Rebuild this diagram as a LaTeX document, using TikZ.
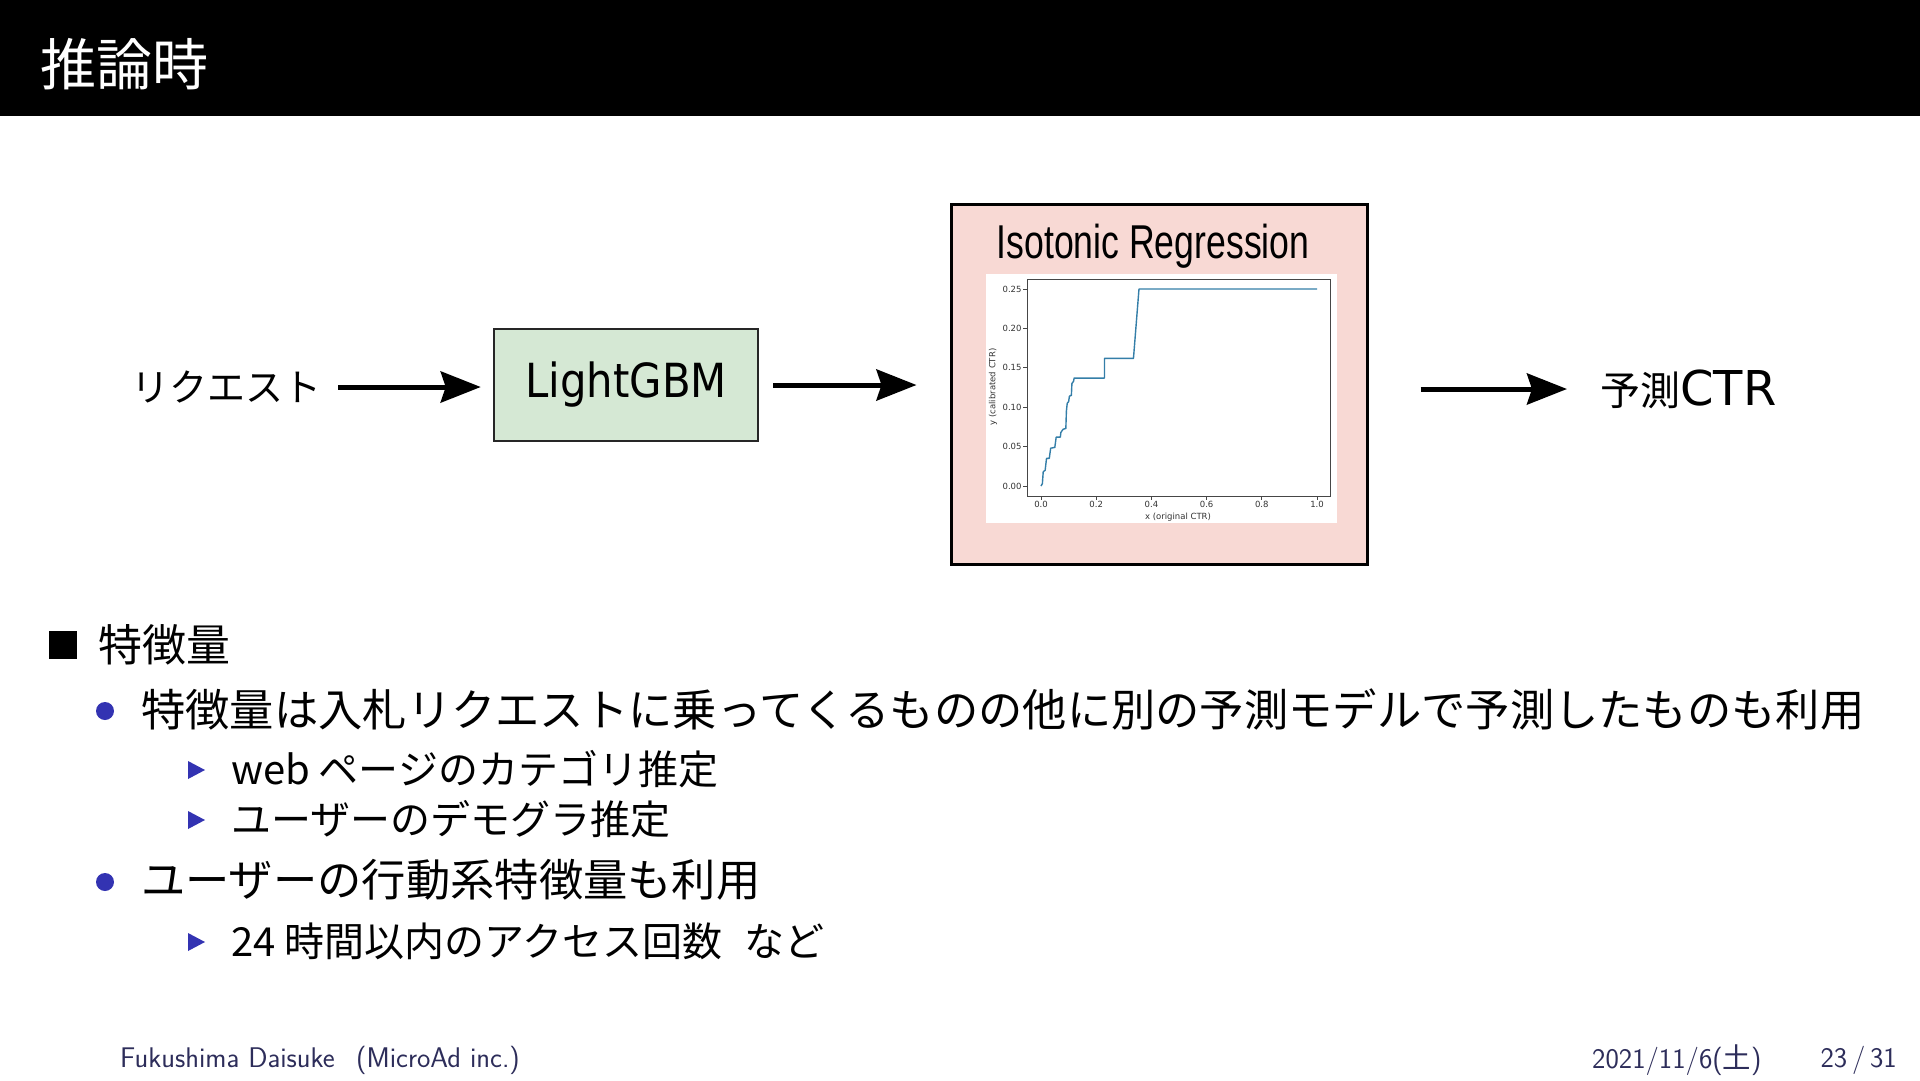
\documentclass[tikz,border=0pt]{standalone}
\usepackage{fontspec}
\usepackage{graphicx}
\newfontfamily\jp{Noto Sans CJK JP}
\newfontfamily\dv{DejaVu Sans}
\newfontfamily\lib{Liberation Sans}
\usetikzlibrary{arrows.meta}
\definecolor{structblue}{rgb}{0.2,0.2,0.7}
\definecolor{footcol}{RGB}{45,45,90}
\definecolor{lgbmfill}{RGB}{213,232,212}
\definecolor{isofill}{RGB}{248,217,212}
\definecolor{curvecol}{RGB}{52,126,168}
\definecolor{axiscol}{RGB}{70,70,70}
\tikzset{
  jphead/.style={anchor=west, inner sep=0pt, font=\jp\fontsize{44}{50}\selectfont},
  jpbody/.style={anchor=west, inner sep=0pt, font=\jp\fontsize{44.3}{50}\selectfont},
  jpsub/.style={anchor=west, inner sep=0pt, font=\jp\fontsize{40}{46}\selectfont},
  ball/.style={circle, fill=structblue, minimum size=18pt, inner sep=0pt},
  subtri/.pic={\fill[structblue] (-8.5,-9) -- (8.5,0) -- (-8.5,9) -- cycle;},
  flow/.style={line width=5pt, -{Stealth[length=40pt,width=31pt,inset=5pt]}},
  lgbmbox/.style={draw=black!85, line width=2.5pt, fill=lgbmfill, minimum width=264pt, minimum height=112pt, inner sep=0pt},
  isobox/.style={draw=black, line width=3pt, fill=isofill, minimum width=416pt, minimum height=360pt, inner sep=0pt},
  axisline/.style={draw=axiscol, line width=0.9pt},
  ticklbl/.style={inner sep=1pt, font=\dv\fontsize{8.5}{9}\selectfont, text=black!80},
  curve/.style={draw=curvecol, line width=1.4pt, line join=round},
  foot/.style={inner sep=0pt, text=footcol, font=\sffamily\fontsize{28.4}{32}\selectfont}
}
\begin{document}
\begin{tikzpicture}[x=1pt,y=-1pt]
\useasboundingbox (0,0) rectangle (1920,1080);
\fill[white] (0,0) rectangle (1920,1080);
% header
\fill[black] (0,0) rectangle (1920,116);
\node[anchor=west, inner sep=0pt, text=white, font=\jp\fontsize{56}{60}\selectfont] (title) at (40,64) {推論時};

% diagram
\node[anchor=west, inner sep=0pt, font=\jp\fontsize{38}{44}\selectfont] (req) at (131,387) {リクエスト};
\node[lgbmbox] (lgbm) at (626,385) {\raisebox{-6pt}{\scalebox{0.89}[1]{\dv\fontsize{47}{52}\selectfont LightGBM}}};
\node[isobox] (iso) at (1159,384.5) {};
\node[anchor=base, inner sep=0pt, font=\lib\fontsize{47.5}{50}\selectfont] (isotitle) at (1153,258) {\scalebox{0.75}[1]{Isotonic Regression}};
\node[anchor=west, inner sep=0pt] (pred) at (1600,389) {{\jp\fontsize{40}{44}\selectfont 予測}{\dv\fontsize{48}{52}\selectfont CTR}};

\draw[flow, shorten <=17pt, shorten >=12pt] (req.east) -- (req.east -| lgbm.west);
\draw[flow, shorten <=14pt, shorten >=33pt] (lgbm.east) -- (lgbm.east -| iso.west);
\draw[flow, shorten <=52pt, shorten >=33pt] (iso.east |- pred.west) -- (pred.west);

% plot
\fill[white] (986,274) rectangle (1337,523);
\draw[axisline] (1027,279) rectangle (1330,496);
\foreach \v/\l in {0/0.00, 0.05/0.05, 0.10/0.10, 0.15/0.15, 0.20/0.20, 0.25/0.25} {
  \draw[axisline] (1027,{486-\v*788}) -- ++(-4,0) node[anchor=east, ticklbl] {\l};
}
\foreach \v/\l in {0/0.0, 0.2/0.2, 0.4/0.4, 0.6/0.6, 0.8/0.8, 1.0/1.0} {
  \draw[axisline] ({1041+\v*276},496) -- ++(0,4) node[anchor=north, ticklbl] {\l};
}
\node[ticklbl] (xlabel) at (1178,517) {x (original CTR)};
\node[ticklbl, rotate=90] (ylabel) at (993,387) {y (calibrated CTR)};
\begin{scope}[shift={(1041,486)}, x=276pt, y=788pt]
\draw[curve] plot coordinates {(0,0) (0.005,0.003) (0.008,0.018) (0.015,0.02) (0.02,0.035) (0.03,0.035) (0.035,0.048) (0.05,0.049) (0.055,0.062) (0.07,0.062) (0.072,0.068) (0.08,0.072) (0.09,0.073) (0.092,0.095) (0.095,0.105) (0.1,0.107) (0.103,0.114) (0.11,0.115) (0.112,0.13) (0.118,0.133) (0.12,0.137) (0.23,0.137) (0.23,0.162) (0.335,0.162) (0.355,0.25) (1.0,0.25)};
\end{scope}

% body
\fill[black] (49,631) rectangle (77,659);
\node[jphead] (h1) at (98,645) {特徴量};
\node[ball] (b1) at (105,711) {};
\node[jpbody] (t1) at (141,709) {特徴量は入札リクエストに乗ってくるものの他に別の予測モデルで予測したものも利用};
\pic at (196.5,770) {subtri};
\node[jpsub] (s1) at (231,769) {web ページのカテゴリ推定};
\pic at (196.5,820) {subtri};
\node[jpsub] (s2) at (231,819) {ユーザーのデモグラ推定};
\node[ball] (b2) at (105,882) {};
\node[jpbody] (t2) at (141,880) {ユーザーの行動系特徴量も利用};
\pic at (196.5,942) {subtri};
\node[jpsub] (s3) at (231,941) {24 時間以内のアクセス回数\hspace{0.55em}など};

% footer
\node[foot, anchor=west] (author) at (120,1060) {Fukushima Daisuke\hspace{0.75em}(MicroAd inc.)};
\node[foot, anchor=west] (date) at (1592,1060) {2021/11/6({\jp 土})};
\node[foot, anchor=east] (page) at (1897,1060) {23\,/\,31};
\end{tikzpicture}
\end{document}
